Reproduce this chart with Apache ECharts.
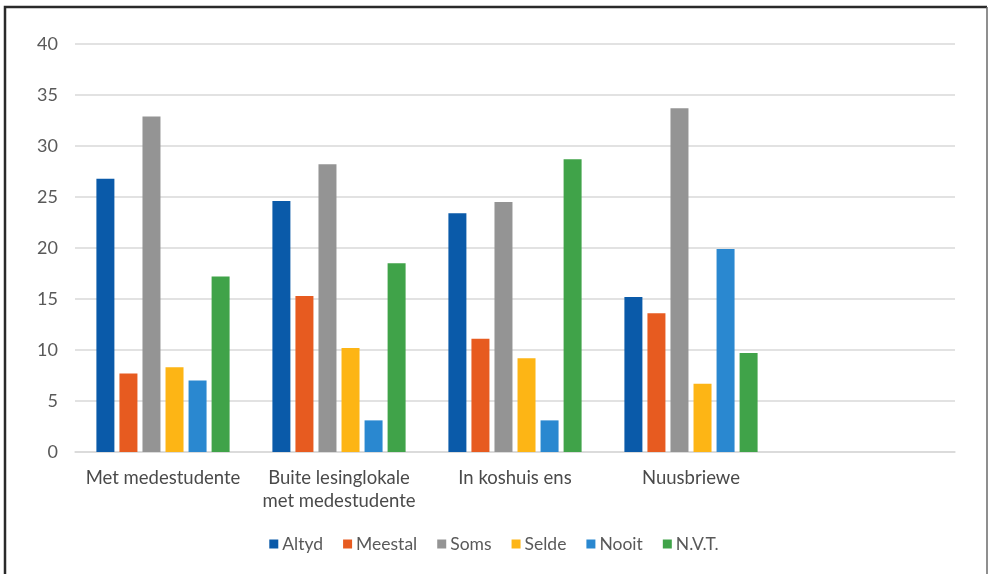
<!DOCTYPE html>
<html>
<head>
<meta charset="utf-8">
<script src="https://cdn.jsdelivr.net/npm/echarts@6/dist/echarts.min.js"></script>
<style>
  html, body { margin: 0; padding: 0; background: #fff; }
  #chart { width: 988px; height: 574px; }
</style>
</head>
<body>
<div id="chart"></div>
<script>
// Categories along the x axis (the last slot is left empty)
const categories = ['Met medestudente', 'Buite lesinglokale\nmet medestudente', 'In koshuis ens', 'Nuusbriewe', ''];

// Response frequencies per category
const seriesNames = ['Altyd', 'Meestal', 'Soms', 'Selde', 'Nooit', 'N.V.T.'];
const altyd   = [26.8, 24.6, 23.4, 15.2];
const meestal = [7.7, 15.3, 11.1, 13.6];
const soms    = [32.9, 28.2, 24.5, 33.7];
const selde   = [8.3, 10.2, 9.2, 6.7];
const nooit   = [7.0, 3.1, 3.1, 19.9];
const nvt     = [17.2, 18.5, 28.7, 9.7];

const yTicks = { min: 0, max: 40, interval: 5 };

const values = [altyd, meestal, soms, selde, nooit, nvt];
const colors = ['#0a5aa9', '#e75b20', '#949494', '#fdb515', '#2a88d0', '#40a349'];
const fontFamily = 'Lato, "Noto Sans", sans-serif';

const chart = echarts.init(document.getElementById('chart'), null, { renderer: 'canvas' });

chart.setOption({
  animation: false,
  backgroundColor: '#ffffff',
  textStyle: { fontFamily: fontFamily },
  grid: { left: 75, right: 33, top: 44, bottom: 122, containLabel: false },
  legend: {
    bottom: 16,
    left: 'center',
    itemWidth: 9,
    itemHeight: 9,
    itemGap: 20,
    icon: 'rect',
    textStyle: { fontSize: 17.5, color: '#595959', fontFamily: fontFamily, padding: [0, 0, 0, -1] },
    data: seriesNames
  },
  xAxis: {
    type: 'category',
    data: categories,
    axisLine: { lineStyle: { color: '#d9d9d9', width: 1.5 } },
    axisTick: { show: false },
    axisLabel: {
      interval: 0,
      fontSize: 18.5,
      color: '#4a4a4a',
      margin: 15,
      lineHeight: 23,
      fontFamily: fontFamily
    },
    splitLine: { show: false }
  },
  yAxis: {
    type: 'value',
    min: yTicks.min,
    max: yTicks.max,
    interval: yTicks.interval,
    axisLine: { show: false },
    axisTick: { show: false },
    axisLabel: { fontSize: 18, color: '#595959', margin: 17, fontFamily: fontFamily },
    splitLine: { lineStyle: { color: '#d9d9d9', width: 1.5 } }
  },
  series: seriesNames.map((name, i) => ({
    name: name,
    type: 'bar',
    data: values[i],
    barWidth: 18,
    barGap: '28%',
    itemStyle: { color: colors[i] }
  })),
  graphic: [
    {
      type: 'polyline',
      shape: { points: [[5, 574], [5, 7], [987, 7]] },
      style: { stroke: '#2a2a2a', lineWidth: 2.5, fill: null }
    },
    {
      type: 'line',
      shape: { x1: 987, y1: 7, x2: 987, y2: 574 },
      style: { stroke: '#6a6a6a', lineWidth: 1.5 }
    }
  ]
});
</script>
</body>
</html>
